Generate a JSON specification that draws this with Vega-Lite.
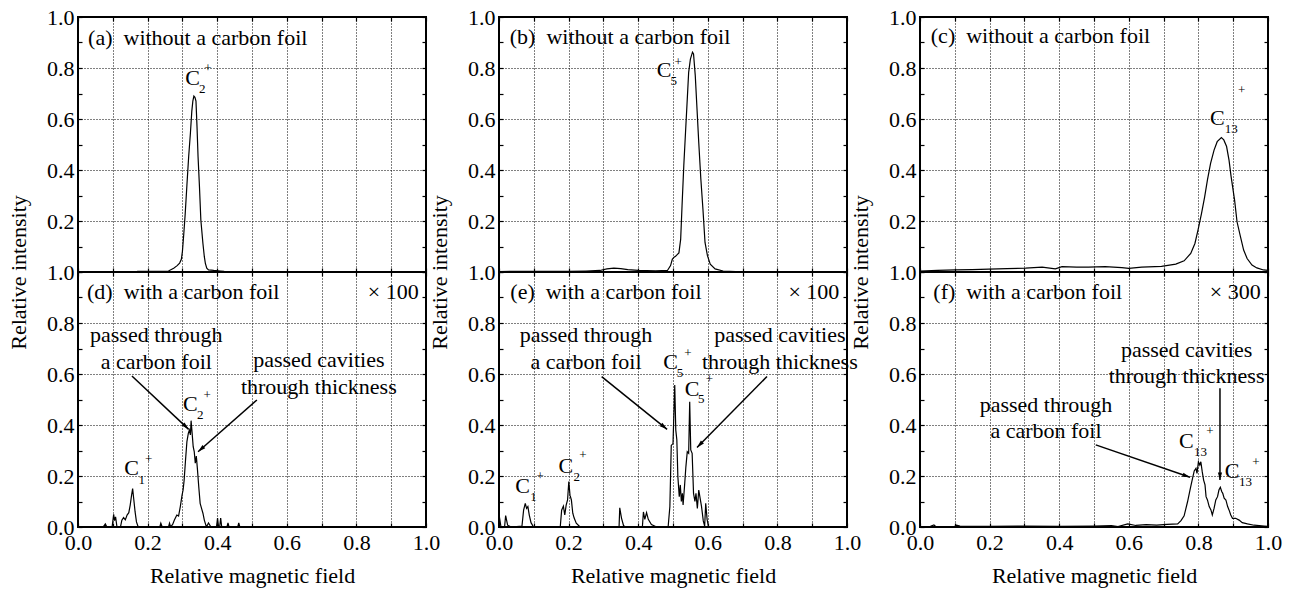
{
"$schema": "https://vega.github.io/schema/vega-lite/v6.json",
"background": "white",
"padding": {"left": 6, "top": 5, "right": 5, "bottom": 5},
"config": {
  "view": {"stroke": "black", "strokeWidth": 2},
  "text": {"color": "black", "fill": "black", "font": "Liberation Serif"},
  "axis": {"labelFont": "Liberation Serif", "labelFontSize": 22, "labelColor": "black", "titleFont": "Liberation Serif", "titleFontSize": 22, "titleFontWeight": "normal", "titleColor": "black", "tickColor": "black", "tickWidth": 1.2, "tickSize": -4, "domain": false, "gridColor": "black", "gridDash": [1, 2], "gridWidth": 1, "labelFlush": false, "labelOverlap": false}
},
"datasets": {
  "curves": [
    {"p":"a","x":0.17,"y":0.003},{"p":"a","x":0.20,"y":0.003},{"p":"a","x":0.24,"y":0.003},{"p":"a","x":0.26,"y":0.004},{"p":"a","x":0.275,"y":0.015},{"p":"a","x":0.285,"y":0.025},{"p":"a","x":0.292,"y":0.035},{"p":"a","x":0.297,"y":0.05},{"p":"a","x":0.300,"y":0.08},{"p":"a","x":0.304,"y":0.15},{"p":"a","x":0.308,"y":0.227},{"p":"a","x":0.313,"y":0.341},{"p":"a","x":0.318,"y":0.452},{"p":"a","x":0.323,"y":0.544},{"p":"a","x":0.327,"y":0.63},{"p":"a","x":0.330,"y":0.67},{"p":"a","x":0.333,"y":0.69},{"p":"a","x":0.336,"y":0.685},{"p":"a","x":0.339,"y":0.67},{"p":"a","x":0.342,"y":0.57},{"p":"a","x":0.345,"y":0.452},{"p":"a","x":0.349,"y":0.335},{"p":"a","x":0.353,"y":0.204},{"p":"a","x":0.359,"y":0.112},{"p":"a","x":0.363,"y":0.06},{"p":"a","x":0.366,"y":0.034},{"p":"a","x":0.370,"y":0.015},{"p":"a","x":0.375,"y":0.008},{"p":"a","x":0.39,"y":0.006},{"p":"a","x":0.41,"y":0.004},{"p":"a","x":0.42,"y":0.003},
    {"p":"b","x":0.0,"y":0.002},{"p":"b","x":0.05,"y":0.003},{"p":"b","x":0.1,"y":0.003},{"p":"b","x":0.15,"y":0.003},{"p":"b","x":0.2,"y":0.003},{"p":"b","x":0.25,"y":0.004},{"p":"b","x":0.29,"y":0.006},{"p":"b","x":0.31,"y":0.012},{"p":"b","x":0.33,"y":0.015},{"p":"b","x":0.35,"y":0.013},{"p":"b","x":0.37,"y":0.009},{"p":"b","x":0.40,"y":0.006},{"p":"b","x":0.45,"y":0.005},{"p":"b","x":0.484,"y":0.006},{"p":"b","x":0.493,"y":0.025},{"p":"b","x":0.498,"y":0.05},{"p":"b","x":0.503,"y":0.058},{"p":"b","x":0.5075,"y":0.062},{"p":"b","x":0.512,"y":0.068},{"p":"b","x":0.517,"y":0.075},{"p":"b","x":0.522,"y":0.128},{"p":"b","x":0.526,"y":0.26},{"p":"b","x":0.531,"y":0.417},{"p":"b","x":0.536,"y":0.548},{"p":"b","x":0.541,"y":0.678},{"p":"b","x":0.545,"y":0.783},{"p":"b","x":0.550,"y":0.835},{"p":"b","x":0.556,"y":0.862},{"p":"b","x":0.559,"y":0.855},{"p":"b","x":0.564,"y":0.770},{"p":"b","x":0.569,"y":0.639},{"p":"b","x":0.574,"y":0.508},{"p":"b","x":0.580,"y":0.365},{"p":"b","x":0.586,"y":0.247},{"p":"b","x":0.592,"y":0.116},{"p":"b","x":0.599,"y":0.064},{"p":"b","x":0.607,"y":0.031},{"p":"b","x":0.621,"y":0.012},{"p":"b","x":0.644,"y":0.004},{"p":"b","x":0.68,"y":0.002},{"p":"b","x":0.75,"y":0.001},{"p":"b","x":0.85,"y":0.001},{"p":"b","x":1.0,"y":0.001},
    {"p":"c","x":0.0,"y":0.004},{"p":"c","x":0.05,"y":0.006},{"p":"c","x":0.102,"y":0.008},{"p":"c","x":0.15,"y":0.009},{"p":"c","x":0.198,"y":0.011},{"p":"c","x":0.25,"y":0.013},{"p":"c","x":0.303,"y":0.015},{"p":"c","x":0.351,"y":0.019},{"p":"c","x":0.389,"y":0.012},{"p":"c","x":0.408,"y":0.021},{"p":"c","x":0.45,"y":0.019},{"p":"c","x":0.484,"y":0.019},{"p":"c","x":0.532,"y":0.021},{"p":"c","x":0.58,"y":0.017},{"p":"c","x":0.6,"y":0.014},{"p":"c","x":0.637,"y":0.019},{"p":"c","x":0.694,"y":0.022},{"p":"c","x":0.735,"y":0.031},{"p":"c","x":0.759,"y":0.044},{"p":"c","x":0.778,"y":0.073},{"p":"c","x":0.790,"y":0.112},{"p":"c","x":0.799,"y":0.165},{"p":"c","x":0.809,"y":0.23},{"p":"c","x":0.818,"y":0.295},{"p":"c","x":0.826,"y":0.361},{"p":"c","x":0.835,"y":0.426},{"p":"c","x":0.845,"y":0.478},{"p":"c","x":0.854,"y":0.511},{"p":"c","x":0.866,"y":0.527},{"p":"c","x":0.873,"y":0.518},{"p":"c","x":0.881,"y":0.492},{"p":"c","x":0.888,"y":0.439},{"p":"c","x":0.894,"y":0.374},{"p":"c","x":0.904,"y":0.282},{"p":"c","x":0.911,"y":0.197},{"p":"c","x":0.921,"y":0.138},{"p":"c","x":0.930,"y":0.086},{"p":"c","x":0.940,"y":0.053},{"p":"c","x":0.954,"y":0.027},{"p":"c","x":0.968,"y":0.016},{"p":"c","x":0.987,"y":0.008},{"p":"c","x":1.0,"y":0.006},
    {"p":"d","x":0.072,"y":0},{"p":"d","x":0.0785,"y":0.012},{"p":"d","x":0.083,"y":0},{"p":"d","x":0.098,"y":0},{"p":"d","x":0.1025,"y":0.05},{"p":"d","x":0.105,"y":0.025},{"p":"d","x":0.108,"y":0.04},{"p":"d","x":0.112,"y":0},{"p":"d","x":0.122,"y":0},{"p":"d","x":0.126,"y":0.027},{"p":"d","x":0.131,"y":0.037},{"p":"d","x":0.136,"y":0.028},{"p":"d","x":0.141,"y":0.047},{"p":"d","x":0.146,"y":0.056},{"p":"d","x":0.150,"y":0.086},{"p":"d","x":0.154,"y":0.125},{"p":"d","x":0.157,"y":0.151},{"p":"d","x":0.160,"y":0.112},{"p":"d","x":0.164,"y":0.06},{"p":"d","x":0.168,"y":0.02},{"p":"d","x":0.173,"y":0},{"p":"d","x":0.235,"y":0},{"p":"d","x":0.238,"y":0.015},{"p":"d","x":0.242,"y":0},{"p":"d","x":0.26,"y":0},{"p":"d","x":0.263,"y":0.015},{"p":"d","x":0.266,"y":0},{"p":"d","x":0.272,"y":0.01},{"p":"d","x":0.277,"y":0.027},{"p":"d","x":0.284,"y":0.047},{"p":"d","x":0.289,"y":0.043},{"p":"d","x":0.294,"y":0.08},{"p":"d","x":0.299,"y":0.125},{"p":"d","x":0.302,"y":0.145},{"p":"d","x":0.305,"y":0.184},{"p":"d","x":0.309,"y":0.263},{"p":"d","x":0.313,"y":0.335},{"p":"d","x":0.317,"y":0.367},{"p":"d","x":0.320,"y":0.38},{"p":"d","x":0.323,"y":0.361},{"p":"d","x":0.325,"y":0.417},{"p":"d","x":0.328,"y":0.367},{"p":"d","x":0.331,"y":0.315},{"p":"d","x":0.334,"y":0.296},{"p":"d","x":0.337,"y":0.25},{"p":"d","x":0.340,"y":0.278},{"p":"d","x":0.343,"y":0.23},{"p":"d","x":0.347,"y":0.158},{"p":"d","x":0.351,"y":0.093},{"p":"d","x":0.355,"y":0.073},{"p":"d","x":0.359,"y":0.054},{"p":"d","x":0.363,"y":0.027},{"p":"d","x":0.369,"y":0},{"p":"d","x":0.375,"y":0.016},{"p":"d","x":0.382,"y":0},{"p":"d","x":0.398,"y":0},{"p":"d","x":0.401,"y":0.035},{"p":"d","x":0.404,"y":0},{"p":"d","x":0.407,"y":0},{"p":"d","x":0.41,"y":0.035},{"p":"d","x":0.413,"y":0},{"p":"d","x":0.428,"y":0},{"p":"d","x":0.431,"y":0.016},{"p":"d","x":0.434,"y":0},{"p":"d","x":0.459,"y":0},{"p":"d","x":0.462,"y":0.016},{"p":"d","x":0.465,"y":0},{"p":"d","x":0.47,"y":0},
    {"p":"e","x":0.0,"y":0.05},{"p":"e","x":0.0057,"y":0},{"p":"e","x":0.016,"y":0},{"p":"e","x":0.0191,"y":0.045},{"p":"e","x":0.0248,"y":0.007},{"p":"e","x":0.035,"y":0},{"p":"e","x":0.066,"y":0.004},{"p":"e","x":0.0707,"y":0.066},{"p":"e","x":0.0755,"y":0.093},{"p":"e","x":0.0793,"y":0.073},{"p":"e","x":0.083,"y":0.08},{"p":"e","x":0.087,"y":0.047},{"p":"e","x":0.092,"y":0.017},{"p":"e","x":0.0993,"y":0},{"p":"e","x":0.176,"y":0},{"p":"e","x":0.180,"y":0.066},{"p":"e","x":0.185,"y":0.082},{"p":"e","x":0.189,"y":0.047},{"p":"e","x":0.193,"y":0.086},{"p":"e","x":0.197,"y":0.106},{"p":"e","x":0.2006,"y":0.178},{"p":"e","x":0.204,"y":0.125},{"p":"e","x":0.208,"y":0.106},{"p":"e","x":0.212,"y":0.054},{"p":"e","x":0.216,"y":0.035},{"p":"e","x":0.222,"y":0.015},{"p":"e","x":0.233,"y":0},{"p":"e","x":0.345,"y":0},{"p":"e","x":0.347,"y":0.075},{"p":"e","x":0.352,"y":0.035},{"p":"e","x":0.358,"y":0.005},{"p":"e","x":0.365,"y":0},{"p":"e","x":0.412,"y":0},{"p":"e","x":0.415,"y":0.059},{"p":"e","x":0.419,"y":0.03},{"p":"e","x":0.424,"y":0.056},{"p":"e","x":0.429,"y":0.03},{"p":"e","x":0.438,"y":0.01},{"p":"e","x":0.453,"y":0},{"p":"e","x":0.486,"y":0},{"p":"e","x":0.491,"y":0.08},{"p":"e","x":0.495,"y":0.32},{"p":"e","x":0.500,"y":0.327},{"p":"e","x":0.505,"y":0.557},{"p":"e","x":0.508,"y":0.38},{"p":"e","x":0.511,"y":0.342},{"p":"e","x":0.514,"y":0.197},{"p":"e","x":0.518,"y":0.119},{"p":"e","x":0.521,"y":0.165},{"p":"e","x":0.524,"y":0.1},{"p":"e","x":0.527,"y":0.132},{"p":"e","x":0.529,"y":0.086},{"p":"e","x":0.533,"y":0.158},{"p":"e","x":0.537,"y":0.236},{"p":"e","x":0.541,"y":0.295},{"p":"e","x":0.545,"y":0.289},{"p":"e","x":0.548,"y":0.491},{"p":"e","x":0.551,"y":0.302},{"p":"e","x":0.555,"y":0.289},{"p":"e","x":0.559,"y":0.132},{"p":"e","x":0.563,"y":0.1},{"p":"e","x":0.566,"y":0.132},{"p":"e","x":0.570,"y":0.073},{"p":"e","x":0.574,"y":0.145},{"p":"e","x":0.578,"y":0.112},{"p":"e","x":0.582,"y":0.08},{"p":"e","x":0.587,"y":0.024},{"p":"e","x":0.591,"y":0.004},{"p":"e","x":0.594,"y":0.093},{"p":"e","x":0.598,"y":0.03},{"p":"e","x":0.602,"y":0},{"p":"e","x":0.61,"y":0},
    {"p":"f","x":0.0,"y":0.002},{"p":"f","x":0.03,"y":0.003},{"p":"f","x":0.04,"y":0.008},{"p":"f","x":0.045,"y":0.002},{"p":"f","x":0.1,"y":0.003},{"p":"f","x":0.105,"y":0.007},{"p":"f","x":0.115,"y":0.004},{"p":"f","x":0.2,"y":0.003},{"p":"f","x":0.3,"y":0.004},{"p":"f","x":0.4,"y":0.003},{"p":"f","x":0.5,"y":0.004},{"p":"f","x":0.55,"y":0.005},{"p":"f","x":0.569,"y":0.002},{"p":"f","x":0.597,"y":0.012},{"p":"f","x":0.62,"y":0.006},{"p":"f","x":0.65,"y":0.009},{"p":"f","x":0.68,"y":0.007},{"p":"f","x":0.71,"y":0.01},{"p":"f","x":0.7404,"y":0.012},{"p":"f","x":0.750,"y":0.025},{"p":"f","x":0.759,"y":0.044},{"p":"f","x":0.769,"y":0.1},{"p":"f","x":0.777,"y":0.152},{"p":"f","x":0.783,"y":0.19},{"p":"f","x":0.788,"y":0.22},{"p":"f","x":0.793,"y":0.23},{"p":"f","x":0.796,"y":0.21},{"p":"f","x":0.800,"y":0.256},{"p":"f","x":0.804,"y":0.243},{"p":"f","x":0.807,"y":0.256},{"p":"f","x":0.811,"y":0.217},{"p":"f","x":0.815,"y":0.184},{"p":"f","x":0.819,"y":0.165},{"p":"f","x":0.822,"y":0.119},{"p":"f","x":0.826,"y":0.106},{"p":"f","x":0.831,"y":0.08},{"p":"f","x":0.836,"y":0.067},{"p":"f","x":0.840,"y":0.047},{"p":"f","x":0.845,"y":0.073},{"p":"f","x":0.850,"y":0.106},{"p":"f","x":0.855,"y":0.119},{"p":"f","x":0.859,"y":0.145},{"p":"f","x":0.863,"y":0.156},{"p":"f","x":0.867,"y":0.139},{"p":"f","x":0.870,"y":0.132},{"p":"f","x":0.874,"y":0.113},{"p":"f","x":0.879,"y":0.106},{"p":"f","x":0.884,"y":0.08},{"p":"f","x":0.888,"y":0.067},{"p":"f","x":0.893,"y":0.047},{"p":"f","x":0.898,"y":0.034},{"p":"f","x":0.907,"y":0.034},{"p":"f","x":0.917,"y":0.027},{"p":"f","x":0.926,"y":0.017},{"p":"f","x":0.941,"y":0.012},{"p":"f","x":0.960,"y":0.007},{"p":"f","x":0.989,"y":0.004},{"p":"f","x":1.0,"y":0.003}
  ],
  "ann": [
    {"p":"a","role":"head","x":0.029,"y":0.89,"t":"(a)\u00a0 without a carbon foil"},
    {"p":"a","role":"ion","x":0.308,"y":0.733,"t":"C"},{"p":"a","role":"sub","x":0.348,"y":0.701,"t":"2"},{"p":"a","role":"sup","x":0.373,"y":0.799,"t":"+"},
    {"p":"b","role":"head","x":0.031,"y":0.894,"t":"(b)\u00a0 without a carbon foil"},
    {"p":"b","role":"ion","x":0.453,"y":0.766,"t":"C"},{"p":"b","role":"sub","x":0.493,"y":0.733,"t":"5"},{"p":"b","role":"sup","x":0.515,"y":0.825,"t":"+"},
    {"p":"c","role":"head","x":0.031,"y":0.897,"t":"(c)\u00a0 without a carbon foil"},
    {"p":"c","role":"ion","x":0.833,"y":0.576,"t":"C"},{"p":"c","role":"sub","x":0.876,"y":0.546,"t":"13"},{"p":"c","role":"sup","x":0.924,"y":0.714,"t":"+"},
    {"p":"d","role":"head","x":0.026,"y":0.894,"t":"(d)\u00a0 with a carbon foil"},
    {"p":"d","role":"scale","x":0.979,"y":0.894,"t":"× 100"},
    {"p":"d","role":"note","x":0.225,"y":0.727,"t":"passed through"},{"p":"d","role":"note","x":0.225,"y":0.618,"t":"a carbon foil"},
    {"p":"d","role":"note","x":0.692,"y":0.626,"t":"passed cavities"},{"p":"d","role":"note","x":0.692,"y":0.522,"t":"through thickness"},
    {"p":"d","role":"ion","x":0.133,"y":0.204,"t":"C"},{"p":"d","role":"sub","x":0.174,"y":0.169,"t":"1"},{"p":"d","role":"sup","x":0.203,"y":0.265,"t":"+"},
    {"p":"d","role":"ion","x":0.302,"y":0.455,"t":"C"},{"p":"d","role":"sub","x":0.342,"y":0.422,"t":"2"},{"p":"d","role":"sup","x":0.371,"y":0.518,"t":"+"},
    {"p":"e","role":"head","x":0.0325,"y":0.894,"t":"(e)\u00a0 with a carbon foil"},
    {"p":"e","role":"scale","x":0.978,"y":0.894,"t":"× 100"},
    {"p":"e","role":"note","x":0.25,"y":0.727,"t":"passed through"},{"p":"e","role":"note","x":0.25,"y":0.618,"t":"a carbon foil"},
    {"p":"e","role":"note","x":0.807,"y":0.727,"t":"passed cavities"},{"p":"e","role":"note","x":0.807,"y":0.618,"t":"through thickness"},
    {"p":"e","role":"ion","x":0.472,"y":0.618,"t":"C"},{"p":"e","role":"sub","x":0.511,"y":0.59,"t":"5"},{"p":"e","role":"sup","x":0.543,"y":0.681,"t":"+"},
    {"p":"e","role":"ion","x":0.534,"y":0.514,"t":"C"},{"p":"e","role":"sub","x":0.572,"y":0.485,"t":"5"},{"p":"e","role":"sup","x":0.605,"y":0.579,"t":"+"},
    {"p":"e","role":"ion","x":0.047,"y":0.135,"t":"C"},{"p":"e","role":"sub","x":0.09,"y":0.103,"t":"1"},{"p":"e","role":"sup","x":0.118,"y":0.2,"t":"+"},
    {"p":"e","role":"ion","x":0.171,"y":0.213,"t":"C"},{"p":"e","role":"sub","x":0.214,"y":0.182,"t":"2"},{"p":"e","role":"sup","x":0.241,"y":0.282,"t":"+"},
    {"p":"f","role":"head","x":0.0384,"y":0.894,"t":"(f)\u00a0 with a carbon foil"},
    {"p":"f","role":"scale","x":0.979,"y":0.894,"t":"× 300"},
    {"p":"f","role":"note","x":0.766,"y":0.665,"t":"passed cavities"},{"p":"f","role":"note","x":0.766,"y":0.566,"t":"through thickness"},
    {"p":"f","role":"note","x":0.362,"y":0.452,"t":"passed through"},{"p":"f","role":"note","x":0.362,"y":0.348,"t":"a carbon foil"},
    {"p":"f","role":"ion","x":0.744,"y":0.309,"t":"C"},{"p":"f","role":"sub","x":0.787,"y":0.278,"t":"13"},{"p":"f","role":"sup","x":0.833,"y":0.378,"t":"+"},
    {"p":"f","role":"ion","x":0.876,"y":0.191,"t":"C"},{"p":"f","role":"sub","x":0.917,"y":0.161,"t":"13"},{"p":"f","role":"sup","x":0.965,"y":0.256,"t":"+"}
  ],
  "arrows": [
    {"p":"d","x":0.155,"y":0.592,"x2":0.318,"y2":0.383},
    {"p":"d","x":0.514,"y":0.498,"x2":0.345,"y2":0.295},
    {"p":"e","x":0.295,"y":0.59,"x2":0.483,"y2":0.383},
    {"p":"e","x":0.770,"y":0.59,"x2":0.569,"y2":0.312},
    {"p":"f","x":0.505,"y":0.322,"x2":0.776,"y2":0.195},
    {"p":"f","x":0.862,"y":0.544,"x2":0.862,"y2":0.184}
  ]
},
"columns": 3,
"spacing": {"row": 0, "column": 73},
"bounds": "flush",
"concat": [
    {"width": 348, "height": 255,
     "layer": [
      {"data": {"name": "curves"}, "transform": [{"filter": "datum.p == 'a'"}],
       "mark": {"type": "line", "color": "black", "strokeWidth": 1.2, "clip": true},
       "encoding": {
        "x": {"field": "x", "type": "quantitative", "scale": {"domain": [0, 1], "nice": false}, "axis": {"orient": "bottom", "values": [0,0.1,0.2,0.3,0.4,0.5,0.6,0.7,0.8,0.9,1], "labels": false, "grid": true, "title": null}},
        "y": {"field": "y", "type": "quantitative", "scale": {"domain": [0, 1], "nice": false}, "axis": {"orient": "left", "values": [0,0.1,0.2,0.3,0.4,0.5,0.6,0.7,0.8,0.9,1], "labelExpr": "datum.value > 0.05 && round(datum.value*10)%2==0 ? format(datum.value,'.1f') : ''", "labelPadding": 8, "grid": true, "gridOpacity": {"condition": {"test": "round(datum.value*10)%2==1", "value": 0}, "value": 1}, "title": null}}
       }},
      {"data": {"name": "ann"}, "transform": [{"filter": "datum.p == 'a' && (datum.role == 'head' || datum.role == 'ion')"}],
       "mark": {"type": "text", "align": "left", "baseline": "alphabetic", "fontSize": 22, "color": "black"},
       "encoding": {
        "x": {"field": "x", "type": "quantitative", "scale": {"domain": [0, 1], "nice": false}, "axis": {"orient": "top", "values": [0,0.1,0.2,0.3,0.4,0.5,0.6,0.7,0.8,0.9,1], "labels": false, "grid": false, "title": null}},
        "y": {"field": "y", "type": "quantitative", "scale": {"domain": [0, 1], "nice": false}, "axis": {"orient": "right", "values": [0,0.1,0.2,0.3,0.4,0.5,0.6,0.7,0.8,0.9,1], "labels": false, "grid": false, "title": null}},
        "text": {"field": "t"}
       }},
      {"data": {"name": "ann"}, "transform": [{"filter": "datum.p == 'a' && datum.role == 'sub'"}],
       "mark": {"type": "text", "align": "left", "baseline": "alphabetic", "fontSize": 13, "color": "black"},
       "encoding": {"x": {"field": "x", "type": "quantitative", "axis": null}, "y": {"field": "y", "type": "quantitative", "axis": null}, "text": {"field": "t"}}},
      {"data": {"name": "ann"}, "transform": [{"filter": "datum.p == 'a' && datum.role == 'sup'"}],
       "mark": {"type": "text", "align": "center", "baseline": "middle", "fontSize": 13, "color": "black"},
       "encoding": {"x": {"field": "x", "type": "quantitative", "axis": null}, "y": {"field": "y", "type": "quantitative", "axis": null}, "text": {"field": "t"}}}
     ],
     "resolve": {"axis": {"x": "independent", "y": "independent"}}},
    {"width": 348, "height": 255,
     "layer": [
      {"data": {"name": "curves"}, "transform": [{"filter": "datum.p == 'b'"}],
       "mark": {"type": "line", "color": "black", "strokeWidth": 1.2, "clip": true},
       "encoding": {
        "x": {"field": "x", "type": "quantitative", "scale": {"domain": [0, 1], "nice": false}, "axis": {"orient": "bottom", "values": [0,0.1,0.2,0.3,0.4,0.5,0.6,0.7,0.8,0.9,1], "labels": false, "grid": true, "title": null}},
        "y": {"field": "y", "type": "quantitative", "scale": {"domain": [0, 1], "nice": false}, "axis": {"orient": "left", "values": [0,0.1,0.2,0.3,0.4,0.5,0.6,0.7,0.8,0.9,1], "labelExpr": "datum.value > 0.05 && round(datum.value*10)%2==0 ? format(datum.value,'.1f') : ''", "labelPadding": 8, "grid": true, "gridOpacity": {"condition": {"test": "round(datum.value*10)%2==1", "value": 0}, "value": 1}, "title": null}}
       }},
      {"data": {"name": "ann"}, "transform": [{"filter": "datum.p == 'b' && (datum.role == 'head' || datum.role == 'ion')"}],
       "mark": {"type": "text", "align": "left", "baseline": "alphabetic", "fontSize": 22, "color": "black"},
       "encoding": {
        "x": {"field": "x", "type": "quantitative", "scale": {"domain": [0, 1], "nice": false}, "axis": {"orient": "top", "values": [0,0.1,0.2,0.3,0.4,0.5,0.6,0.7,0.8,0.9,1], "labels": false, "grid": false, "title": null}},
        "y": {"field": "y", "type": "quantitative", "scale": {"domain": [0, 1], "nice": false}, "axis": {"orient": "right", "values": [0,0.1,0.2,0.3,0.4,0.5,0.6,0.7,0.8,0.9,1], "labels": false, "grid": false, "title": null}},
        "text": {"field": "t"}
       }},
      {"data": {"name": "ann"}, "transform": [{"filter": "datum.p == 'b' && datum.role == 'sub'"}],
       "mark": {"type": "text", "align": "left", "baseline": "alphabetic", "fontSize": 13, "color": "black"},
       "encoding": {"x": {"field": "x", "type": "quantitative", "axis": null}, "y": {"field": "y", "type": "quantitative", "axis": null}, "text": {"field": "t"}}},
      {"data": {"name": "ann"}, "transform": [{"filter": "datum.p == 'b' && datum.role == 'sup'"}],
       "mark": {"type": "text", "align": "center", "baseline": "middle", "fontSize": 13, "color": "black"},
       "encoding": {"x": {"field": "x", "type": "quantitative", "axis": null}, "y": {"field": "y", "type": "quantitative", "axis": null}, "text": {"field": "t"}}}
     ],
     "resolve": {"axis": {"x": "independent", "y": "independent"}}},
    {"width": 348, "height": 255,
     "layer": [
      {"data": {"name": "curves"}, "transform": [{"filter": "datum.p == 'c'"}],
       "mark": {"type": "line", "color": "black", "strokeWidth": 1.2, "clip": true},
       "encoding": {
        "x": {"field": "x", "type": "quantitative", "scale": {"domain": [0, 1], "nice": false}, "axis": {"orient": "bottom", "values": [0,0.1,0.2,0.3,0.4,0.5,0.6,0.7,0.8,0.9,1], "labels": false, "grid": true, "title": null}},
        "y": {"field": "y", "type": "quantitative", "scale": {"domain": [0, 1], "nice": false}, "axis": {"orient": "left", "values": [0,0.1,0.2,0.3,0.4,0.5,0.6,0.7,0.8,0.9,1], "labelExpr": "datum.value > 0.05 && round(datum.value*10)%2==0 ? format(datum.value,'.1f') : ''", "labelPadding": 8, "grid": true, "gridOpacity": {"condition": {"test": "round(datum.value*10)%2==1", "value": 0}, "value": 1}, "title": null}}
       }},
      {"data": {"name": "ann"}, "transform": [{"filter": "datum.p == 'c' && (datum.role == 'head' || datum.role == 'ion')"}],
       "mark": {"type": "text", "align": "left", "baseline": "alphabetic", "fontSize": 22, "color": "black"},
       "encoding": {
        "x": {"field": "x", "type": "quantitative", "scale": {"domain": [0, 1], "nice": false}, "axis": {"orient": "top", "values": [0,0.1,0.2,0.3,0.4,0.5,0.6,0.7,0.8,0.9,1], "labels": false, "grid": false, "title": null}},
        "y": {"field": "y", "type": "quantitative", "scale": {"domain": [0, 1], "nice": false}, "axis": {"orient": "right", "values": [0,0.1,0.2,0.3,0.4,0.5,0.6,0.7,0.8,0.9,1], "labels": false, "grid": false, "title": null}},
        "text": {"field": "t"}
       }},
      {"data": {"name": "ann"}, "transform": [{"filter": "datum.p == 'c' && datum.role == 'sub'"}],
       "mark": {"type": "text", "align": "left", "baseline": "alphabetic", "fontSize": 13, "color": "black"},
       "encoding": {"x": {"field": "x", "type": "quantitative", "axis": null}, "y": {"field": "y", "type": "quantitative", "axis": null}, "text": {"field": "t"}}},
      {"data": {"name": "ann"}, "transform": [{"filter": "datum.p == 'c' && datum.role == 'sup'"}],
       "mark": {"type": "text", "align": "center", "baseline": "middle", "fontSize": 13, "color": "black"},
       "encoding": {"x": {"field": "x", "type": "quantitative", "axis": null}, "y": {"field": "y", "type": "quantitative", "axis": null}, "text": {"field": "t"}}}
     ],
     "resolve": {"axis": {"x": "independent", "y": "independent"}}},
    {"width": 348, "height": 255,
     "layer": [
      {"data": {"name": "curves"}, "transform": [{"filter": "datum.p == 'd'"}],
       "mark": {"type": "line", "color": "black", "strokeWidth": 1.2, "clip": true},
       "encoding": {
        "x": {"field": "x", "type": "quantitative", "scale": {"domain": [0, 1], "nice": false}, "axis": {"orient": "bottom", "values": [0,0.1,0.2,0.3,0.4,0.5,0.6,0.7,0.8,0.9,1], "labelExpr": "round(datum.value*10)%2==0 ? format(datum.value,'.1f') : ''", "labelPadding": 9, "grid": true, "title": "Relative magnetic field", "titleY": 55, "titleBaseline": "alphabetic"}},
        "y": {"field": "y", "type": "quantitative", "scale": {"domain": [0, 1], "nice": false}, "axis": {"orient": "left", "values": [0,0.1,0.2,0.3,0.4,0.5,0.6,0.7,0.8,0.9,1], "labelExpr": "round(datum.value*10)%2==0 ? format(datum.value,'.1f') : ''", "labelPadding": 8, "grid": true, "gridOpacity": {"condition": {"test": "round(datum.value*10)%2==1", "value": 0}, "value": 1}, "title": "Relative intensity", "titleY": 0, "titleX": -53, "titleBaseline": "alphabetic", "titleAngle": -90}}
       }},
      {"data": {"name": "ann"}, "transform": [{"filter": "datum.p == 'd' && (datum.role == 'head' || datum.role == 'ion')"}],
       "mark": {"type": "text", "align": "left", "baseline": "alphabetic", "fontSize": 22, "color": "black"},
       "encoding": {
        "x": {"field": "x", "type": "quantitative", "scale": {"domain": [0, 1], "nice": false}, "axis": {"orient": "top", "values": [0,0.1,0.2,0.3,0.4,0.5,0.6,0.7,0.8,0.9,1], "labels": false, "grid": false, "title": null}},
        "y": {"field": "y", "type": "quantitative", "scale": {"domain": [0, 1], "nice": false}, "axis": {"orient": "right", "values": [0,0.1,0.2,0.3,0.4,0.5,0.6,0.7,0.8,0.9,1], "labels": false, "grid": false, "title": null}},
        "text": {"field": "t"}
       }},
      {"data": {"name": "ann"}, "transform": [{"filter": "datum.p == 'd' && datum.role == 'scale'"}],
       "mark": {"type": "text", "align": "right", "baseline": "alphabetic", "fontSize": 22, "color": "black"},
       "encoding": {"x": {"field": "x", "type": "quantitative", "axis": null}, "y": {"field": "y", "type": "quantitative", "axis": null}, "text": {"field": "t"}}},
      {"data": {"name": "ann"}, "transform": [{"filter": "datum.p == 'd' && datum.role == 'note'"}],
       "mark": {"type": "text", "align": "center", "baseline": "alphabetic", "fontSize": 22, "color": "black"},
       "encoding": {"x": {"field": "x", "type": "quantitative", "axis": null}, "y": {"field": "y", "type": "quantitative", "axis": null}, "text": {"field": "t"}}},
      {"data": {"name": "ann"}, "transform": [{"filter": "datum.p == 'd' && datum.role == 'sub'"}],
       "mark": {"type": "text", "align": "left", "baseline": "alphabetic", "fontSize": 13, "color": "black"},
       "encoding": {"x": {"field": "x", "type": "quantitative", "axis": null}, "y": {"field": "y", "type": "quantitative", "axis": null}, "text": {"field": "t"}}},
      {"data": {"name": "ann"}, "transform": [{"filter": "datum.p == 'd' && datum.role == 'sup'"}],
       "mark": {"type": "text", "align": "center", "baseline": "middle", "fontSize": 13, "color": "black"},
       "encoding": {"x": {"field": "x", "type": "quantitative", "axis": null}, "y": {"field": "y", "type": "quantitative", "axis": null}, "text": {"field": "t"}}},
      {"data": {"name": "arrows"}, "transform": [{"filter": "datum.p == 'd'"}],
       "mark": {"type": "rule", "color": "black", "strokeWidth": 1.5},
       "encoding": {"x": {"field": "x", "type": "quantitative", "axis": null}, "y": {"field": "y", "type": "quantitative", "axis": null}, "x2": {"field": "x2"}, "y2": {"field": "y2"}}},
      {"data": {"name": "arrows"}, "transform": [{"filter": "datum.p == 'd'"}, {"calculate": "atan2((datum.x2-datum.x)*348, (datum.y2-datum.y)*255)*180/PI", "as": "ang"}],
       "mark": {"type": "point", "shape": "M0,0L-0.6,2.2L0.6,2.2Z", "filled": true, "color": "black", "opacity": 1, "size": 49},
       "encoding": {"x": {"field": "x2", "type": "quantitative", "axis": null}, "y": {"field": "y2", "type": "quantitative", "axis": null}, "angle": {"field": "ang", "type": "quantitative", "scale": null}}}
     ],
     "resolve": {"axis": {"x": "independent", "y": "independent"}}},
    {"width": 348, "height": 255,
     "layer": [
      {"data": {"name": "curves"}, "transform": [{"filter": "datum.p == 'e'"}],
       "mark": {"type": "line", "color": "black", "strokeWidth": 1.2, "clip": true},
       "encoding": {
        "x": {"field": "x", "type": "quantitative", "scale": {"domain": [0, 1], "nice": false}, "axis": {"orient": "bottom", "values": [0,0.1,0.2,0.3,0.4,0.5,0.6,0.7,0.8,0.9,1], "labelExpr": "round(datum.value*10)%2==0 ? format(datum.value,'.1f') : ''", "labelPadding": 9, "grid": true, "title": "Relative magnetic field", "titleY": 55, "titleBaseline": "alphabetic"}},
        "y": {"field": "y", "type": "quantitative", "scale": {"domain": [0, 1], "nice": false}, "axis": {"orient": "left", "values": [0,0.1,0.2,0.3,0.4,0.5,0.6,0.7,0.8,0.9,1], "labelExpr": "round(datum.value*10)%2==0 ? format(datum.value,'.1f') : ''", "labelPadding": 8, "grid": true, "gridOpacity": {"condition": {"test": "round(datum.value*10)%2==1", "value": 0}, "value": 1}, "title": "Relative intensity", "titleY": 0, "titleX": -53, "titleBaseline": "alphabetic", "titleAngle": -90}}
       }},
      {"data": {"name": "ann"}, "transform": [{"filter": "datum.p == 'e' && (datum.role == 'head' || datum.role == 'ion')"}],
       "mark": {"type": "text", "align": "left", "baseline": "alphabetic", "fontSize": 22, "color": "black"},
       "encoding": {
        "x": {"field": "x", "type": "quantitative", "scale": {"domain": [0, 1], "nice": false}, "axis": {"orient": "top", "values": [0,0.1,0.2,0.3,0.4,0.5,0.6,0.7,0.8,0.9,1], "labels": false, "grid": false, "title": null}},
        "y": {"field": "y", "type": "quantitative", "scale": {"domain": [0, 1], "nice": false}, "axis": {"orient": "right", "values": [0,0.1,0.2,0.3,0.4,0.5,0.6,0.7,0.8,0.9,1], "labels": false, "grid": false, "title": null}},
        "text": {"field": "t"}
       }},
      {"data": {"name": "ann"}, "transform": [{"filter": "datum.p == 'e' && datum.role == 'scale'"}],
       "mark": {"type": "text", "align": "right", "baseline": "alphabetic", "fontSize": 22, "color": "black"},
       "encoding": {"x": {"field": "x", "type": "quantitative", "axis": null}, "y": {"field": "y", "type": "quantitative", "axis": null}, "text": {"field": "t"}}},
      {"data": {"name": "ann"}, "transform": [{"filter": "datum.p == 'e' && datum.role == 'note'"}],
       "mark": {"type": "text", "align": "center", "baseline": "alphabetic", "fontSize": 22, "color": "black"},
       "encoding": {"x": {"field": "x", "type": "quantitative", "axis": null}, "y": {"field": "y", "type": "quantitative", "axis": null}, "text": {"field": "t"}}},
      {"data": {"name": "ann"}, "transform": [{"filter": "datum.p == 'e' && datum.role == 'sub'"}],
       "mark": {"type": "text", "align": "left", "baseline": "alphabetic", "fontSize": 13, "color": "black"},
       "encoding": {"x": {"field": "x", "type": "quantitative", "axis": null}, "y": {"field": "y", "type": "quantitative", "axis": null}, "text": {"field": "t"}}},
      {"data": {"name": "ann"}, "transform": [{"filter": "datum.p == 'e' && datum.role == 'sup'"}],
       "mark": {"type": "text", "align": "center", "baseline": "middle", "fontSize": 13, "color": "black"},
       "encoding": {"x": {"field": "x", "type": "quantitative", "axis": null}, "y": {"field": "y", "type": "quantitative", "axis": null}, "text": {"field": "t"}}},
      {"data": {"name": "arrows"}, "transform": [{"filter": "datum.p == 'e'"}],
       "mark": {"type": "rule", "color": "black", "strokeWidth": 1.5},
       "encoding": {"x": {"field": "x", "type": "quantitative", "axis": null}, "y": {"field": "y", "type": "quantitative", "axis": null}, "x2": {"field": "x2"}, "y2": {"field": "y2"}}},
      {"data": {"name": "arrows"}, "transform": [{"filter": "datum.p == 'e'"}, {"calculate": "atan2((datum.x2-datum.x)*348, (datum.y2-datum.y)*255)*180/PI", "as": "ang"}],
       "mark": {"type": "point", "shape": "M0,0L-0.6,2.2L0.6,2.2Z", "filled": true, "color": "black", "opacity": 1, "size": 49},
       "encoding": {"x": {"field": "x2", "type": "quantitative", "axis": null}, "y": {"field": "y2", "type": "quantitative", "axis": null}, "angle": {"field": "ang", "type": "quantitative", "scale": null}}}
     ],
     "resolve": {"axis": {"x": "independent", "y": "independent"}}},
    {"width": 348, "height": 255,
     "layer": [
      {"data": {"name": "curves"}, "transform": [{"filter": "datum.p == 'f'"}],
       "mark": {"type": "line", "color": "black", "strokeWidth": 1.2, "clip": true},
       "encoding": {
        "x": {"field": "x", "type": "quantitative", "scale": {"domain": [0, 1], "nice": false}, "axis": {"orient": "bottom", "values": [0,0.1,0.2,0.3,0.4,0.5,0.6,0.7,0.8,0.9,1], "labelExpr": "round(datum.value*10)%2==0 ? format(datum.value,'.1f') : ''", "labelPadding": 9, "grid": true, "title": "Relative magnetic field", "titleY": 55, "titleBaseline": "alphabetic"}},
        "y": {"field": "y", "type": "quantitative", "scale": {"domain": [0, 1], "nice": false}, "axis": {"orient": "left", "values": [0,0.1,0.2,0.3,0.4,0.5,0.6,0.7,0.8,0.9,1], "labelExpr": "round(datum.value*10)%2==0 ? format(datum.value,'.1f') : ''", "labelPadding": 8, "grid": true, "gridOpacity": {"condition": {"test": "round(datum.value*10)%2==1", "value": 0}, "value": 1}, "title": "Relative intensity", "titleY": 0, "titleX": -53, "titleBaseline": "alphabetic", "titleAngle": -90}}
       }},
      {"data": {"name": "ann"}, "transform": [{"filter": "datum.p == 'f' && (datum.role == 'head' || datum.role == 'ion')"}],
       "mark": {"type": "text", "align": "left", "baseline": "alphabetic", "fontSize": 22, "color": "black"},
       "encoding": {
        "x": {"field": "x", "type": "quantitative", "scale": {"domain": [0, 1], "nice": false}, "axis": {"orient": "top", "values": [0,0.1,0.2,0.3,0.4,0.5,0.6,0.7,0.8,0.9,1], "labels": false, "grid": false, "title": null}},
        "y": {"field": "y", "type": "quantitative", "scale": {"domain": [0, 1], "nice": false}, "axis": {"orient": "right", "values": [0,0.1,0.2,0.3,0.4,0.5,0.6,0.7,0.8,0.9,1], "labels": false, "grid": false, "title": null}},
        "text": {"field": "t"}
       }},
      {"data": {"name": "ann"}, "transform": [{"filter": "datum.p == 'f' && datum.role == 'scale'"}],
       "mark": {"type": "text", "align": "right", "baseline": "alphabetic", "fontSize": 22, "color": "black"},
       "encoding": {"x": {"field": "x", "type": "quantitative", "axis": null}, "y": {"field": "y", "type": "quantitative", "axis": null}, "text": {"field": "t"}}},
      {"data": {"name": "ann"}, "transform": [{"filter": "datum.p == 'f' && datum.role == 'note'"}],
       "mark": {"type": "text", "align": "center", "baseline": "alphabetic", "fontSize": 22, "color": "black"},
       "encoding": {"x": {"field": "x", "type": "quantitative", "axis": null}, "y": {"field": "y", "type": "quantitative", "axis": null}, "text": {"field": "t"}}},
      {"data": {"name": "ann"}, "transform": [{"filter": "datum.p == 'f' && datum.role == 'sub'"}],
       "mark": {"type": "text", "align": "left", "baseline": "alphabetic", "fontSize": 13, "color": "black"},
       "encoding": {"x": {"field": "x", "type": "quantitative", "axis": null}, "y": {"field": "y", "type": "quantitative", "axis": null}, "text": {"field": "t"}}},
      {"data": {"name": "ann"}, "transform": [{"filter": "datum.p == 'f' && datum.role == 'sup'"}],
       "mark": {"type": "text", "align": "center", "baseline": "middle", "fontSize": 13, "color": "black"},
       "encoding": {"x": {"field": "x", "type": "quantitative", "axis": null}, "y": {"field": "y", "type": "quantitative", "axis": null}, "text": {"field": "t"}}},
      {"data": {"name": "arrows"}, "transform": [{"filter": "datum.p == 'f'"}],
       "mark": {"type": "rule", "color": "black", "strokeWidth": 1.5},
       "encoding": {"x": {"field": "x", "type": "quantitative", "axis": null}, "y": {"field": "y", "type": "quantitative", "axis": null}, "x2": {"field": "x2"}, "y2": {"field": "y2"}}},
      {"data": {"name": "arrows"}, "transform": [{"filter": "datum.p == 'f'"}, {"calculate": "atan2((datum.x2-datum.x)*348, (datum.y2-datum.y)*255)*180/PI", "as": "ang"}],
       "mark": {"type": "point", "shape": "M0,0L-0.6,2.2L0.6,2.2Z", "filled": true, "color": "black", "opacity": 1, "size": 49},
       "encoding": {"x": {"field": "x2", "type": "quantitative", "axis": null}, "y": {"field": "y2", "type": "quantitative", "axis": null}, "angle": {"field": "ang", "type": "quantitative", "scale": null}}}
     ],
     "resolve": {"axis": {"x": "independent", "y": "independent"}}}
]
}
